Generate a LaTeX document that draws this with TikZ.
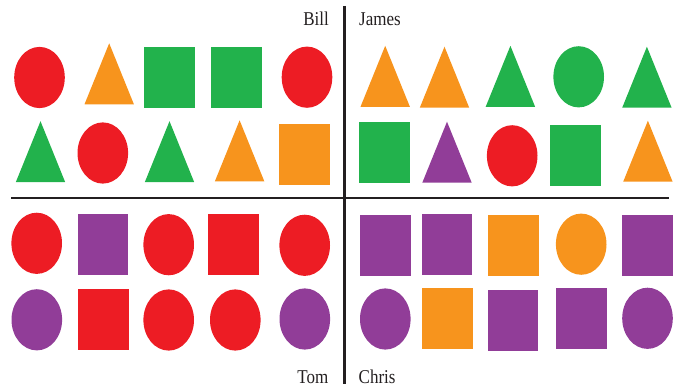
\documentclass[tikz,border=0pt]{standalone}
\usepackage{fontspec}
\setmainfont{Liberation Serif}
\definecolor{cred}{HTML}{ED1C24}
\definecolor{corange}{HTML}{F7941D}
\definecolor{cgreen}{HTML}{22B24C}
\definecolor{cpurple}{HTML}{913D98}
\definecolor{cline}{HTML}{231F20}
\tikzset{
  rd/.style={fill=cred},
  og/.style={fill=corange},
  gn/.style={fill=cgreen},
  pu/.style={fill=cpurple},
  axisline/.style={draw=cline,line width=2.4pt},
  label/.style={inner sep=0pt,font=\fontsize{17}{20}\selectfont,text=cline},
  ell/.pic={\path[pic actions] (0,0) ellipse [x radius=25.3pt,y radius=30.6pt];},
  tri/.pic={\path[pic actions] (0,-30.5) -- (24.7,30.5) -- (-24.7,30.5) -- cycle;},
  sq/.pic={\path[pic actions] (-25.3,-30.5) rectangle (25.3,30.5);}
}
\begin{document}
\begin{tikzpicture}[x=1pt,y=-1pt]
\useasboundingbox (0,0) rectangle (683,387);
% axes
\coordinate (vtop) at (344.3,6);
\coordinate (vbot) at (344.3,384);
\coordinate (hleft) at (11,198);
\coordinate (hright) at (669,198);
\draw[axisline] (vtop) -- (vbot);
\draw[axisline] (hleft) -- (hright);
% labels
\node[label,anchor=base east] (bill) at (329,26) {\scalebox{1}[1.15]{Bill}};
\node[label,anchor=base west] (james) at (359,26) {\scalebox{1}[1.15]{James}};
\node[label,anchor=base east] (tom) at (328.5,384) {\scalebox{1}[1.15]{Tom}};
\node[label,anchor=base west] (chris) at (358.5,384) {\scalebox{1}[1.15]{Chris}};
% Bill, row 1
\pic[rd] at (39.5,77.5) {ell};
\pic[og] at (109.2,73.8) {tri};
\pic[gn] at (169.3,77.8) {sq};
\pic[gn] at (236.2,77.8) {sq};
\pic[rd] at (307,77.2) {ell};
% Bill, row 2
\pic[gn] at (40.5,151.7) {tri};
\pic[rd] at (102.8,153) {ell};
\pic[gn] at (169.5,151.7) {tri};
\pic[og] at (239.6,150.8) {tri};
\pic[og] at (304.7,155) {sq};
% James, row 1
\pic[og] at (385.2,76.3) {tri};
\pic[og] at (444.5,77.2) {tri};
\pic[gn] at (510.4,76.3) {tri};
\pic[gn] at (578.7,76.8) {ell};
\pic[gn] at (646.9,77.2) {tri};
% James, row 2
\pic[gn] at (384.2,152.5) {sq};
\pic[pu] at (447,152.2) {tri};
\pic[rd] at (512.2,155.8) {ell};
\pic[gn] at (575.4,156) {sq};
\pic[og] at (647.9,151.2) {tri};
% Tom, row 1
\pic[rd] at (36.7,243.3) {ell};
\pic[pu] at (103,244.5) {sq};
\pic[rd] at (168.7,244.7) {ell};
\pic[rd] at (233.4,244.5) {sq};
\pic[rd] at (304.7,245.3) {ell};
% Tom, row 2
\pic[pu] at (36.8,319.8) {ell};
\pic[rd] at (103.7,319.8) {sq};
\pic[rd] at (168.7,320) {ell};
\pic[rd] at (235.3,320) {ell};
\pic[pu] at (304.8,319) {ell};
% Chris, row 1
\pic[pu] at (385.5,245.3) {sq};
\pic[pu] at (447,244.5) {sq};
\pic[og] at (513.2,245.2) {sq};
\pic[og] at (581.2,244.2) {ell};
\pic[pu] at (647.5,245.3) {sq};
% Chris, row 2
\pic[pu] at (385.3,319) {ell};
\pic[og] at (447.2,318.2) {sq};
\pic[pu] at (513,320.7) {sq};
\pic[pu] at (581.4,318.2) {sq};
\pic[pu] at (647.5,318.3) {ell};
\end{tikzpicture}
\end{document}
